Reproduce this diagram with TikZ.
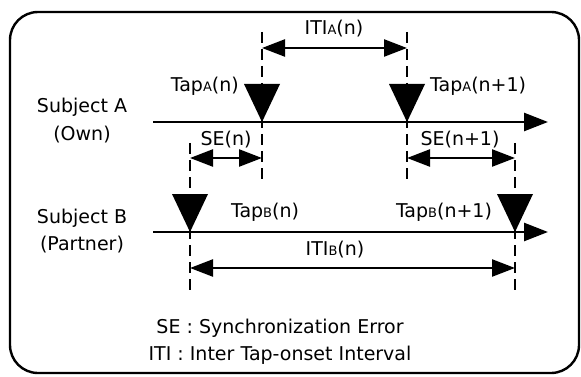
\documentclass[tikz,border=0pt]{standalone}
\usepackage{fontspec}
\setmainfont{DejaVu Sans}
\usetikzlibrary{arrows.meta}
\newcommand{\lowcap}[1]{{\fontsize{13}{13}\selectfont #1}}

\begin{document}
\begin{tikzpicture}[
    x=1pt,y=-1pt,
    lbl/.style={font=\fontsize{19}{22}\selectfont,inner sep=0pt,text height=14pt,text depth=4pt},
    axisline/.style={-{Triangle[length=24pt,width=18pt]},line width=2.6pt},
    span/.style={{Triangle[length=23pt,width=17pt]}-{Triangle[length=23pt,width=17pt]},line width=2.4pt},
    guide/.style={line width=1.8pt,dash pattern=on 11pt off 6pt},
    frame/.style={line width=2.4pt,rounded corners=28pt}
  ]
    \useasboundingbox (0,0) rectangle (581,377);
    \draw[frame] (10,12) rectangle (579,373);

    \coordinate (a0) at (153,122);
    \coordinate (a1) at (548,122);
    \coordinate (b0) at (153,232);
    \coordinate (b1) at (548,232);
    \coordinate (tapA1) at (262,122);
    \coordinate (tapA2) at (407,122);
    \coordinate (tapB1) at (190,232);
    \coordinate (tapB2) at (515,232);
    \coordinate (itiA) at (0,48);
    \coordinate (se) at (0,158);
    \coordinate (itiB) at (0,268);
    \coordinate (topA) at (0,32);
    \coordinate (botA) at (0,180);
    \coordinate (topB) at (0,143);
    \coordinate (botB) at (0,290);

    \draw[guide] (tapA1 |- topA) -- (tapA1 |- botA);
    \draw[guide] (tapA2 |- topA) -- (tapA2 |- botA);
    \draw[guide] (tapB1 |- topB) -- (tapB1 |- botB);
    \draw[guide] (tapB2 |- topB) -- (tapB2 |- botB);

    \draw[axisline] (a0) -- (a1);
    \draw[axisline] (b0) -- (b1);

    \fill (tapA1) -- ++(-18,-38) -- ++(36,0) -- cycle;
    \fill (tapA2) -- ++(-18,-38) -- ++(36,0) -- cycle;
    \fill (tapB1) -- ++(-18,-38) -- ++(36,0) -- cycle;
    \fill (tapB2) -- ++(-18,-38) -- ++(36,0) -- cycle;

    \draw[span] (tapA1 |- itiA) -- (tapA2 |- itiA);
    \draw[span] (tapB1 |- se) -- (tapA1 |- se);
    \draw[span] (tapA2 |- se) -- (tapB2 |- se);
    \draw[span] (tapB1 |- itiB) -- (tapB2 |- itiB);

    \node[lbl] (subjA) at (82,108) {Subject A};
    \node[lbl] (ownA) at (82,136) {(Own)};
    \node[lbl] (subjB) at (82,218) {Subject B};
    \node[lbl] (partB) at (82,245) {(Partner)};

    \node[lbl] (itiAlbl) at (334,30) {ITI\lowcap{A}(n)};
    \node[lbl,anchor=east] (tapA1lbl) at (239,87) {Tap\lowcap{A}(n)};
    \node[lbl,anchor=west] (tapA2lbl) at (430,87) {Tap\lowcap{A}(n+1)};
    \node[lbl] (se1lbl) at (226,141) {SE(n)};
    \node[lbl] (se2lbl) at (460,141) {SE(n+1)};
    \node[lbl] (tapB1lbl) at (265,212) {Tap\lowcap{B}(n)};
    \node[lbl] (tapB2lbl) at (444,212) {Tap\lowcap{B}(n+1)};
    \node[lbl] (itiBlbl) at (335,250) {ITI\lowcap{B}(n)};

    \node[lbl] (legSE) at (280,328) {SE : Synchronization Error};
    \node[lbl] (legITI) at (280,355) {ITI : Inter Tap-onset Interval};
  \end{tikzpicture}
\end{document}
